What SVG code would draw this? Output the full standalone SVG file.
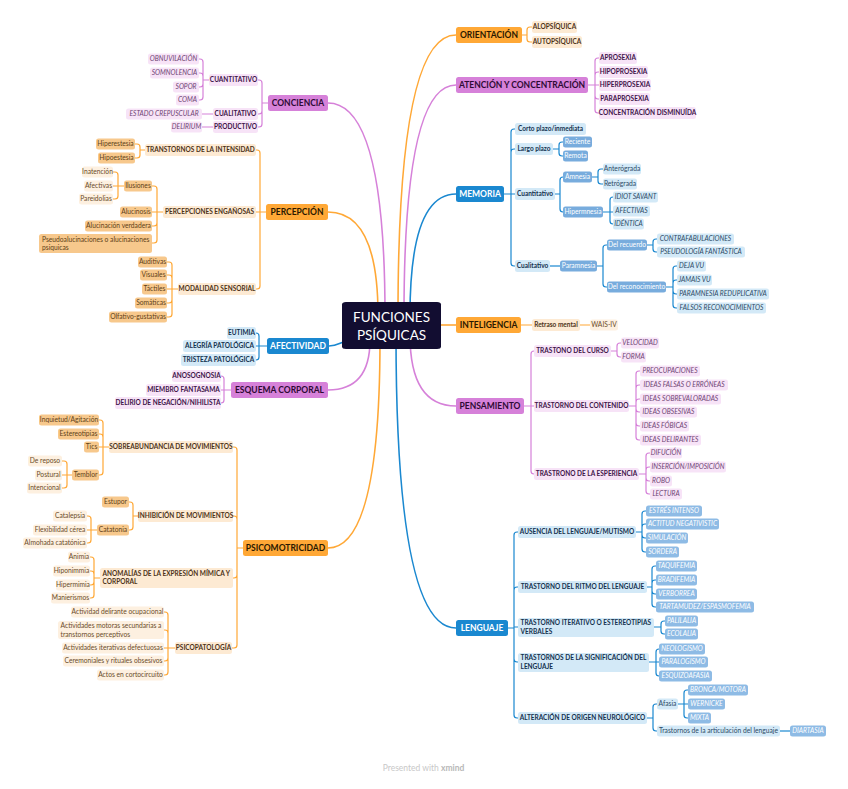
<svg xmlns="http://www.w3.org/2000/svg" width="848" height="789" viewBox="0 0 848 789">
<style>
text{font-family:Lato,"Liberation Sans",sans-serif;font-size:6.7px;text-anchor:middle}
rect{rx:2.5px;ry:2.5px}
.lft text{text-anchor:start}
.mo rect{fill:#FFA836}.mo text{fill:#2a1800;font-weight:bold;font-size:8.5px}
.mp rect{fill:#D681D9}.mp text{fill:#2d0a33;font-weight:bold;font-size:8.5px}
.mb rect{fill:#1A88D0}.mb text{fill:#fff;font-weight:bold;font-size:8.5px}
.o2 rect{fill:#FDEAD3}.o2 text{fill:#4d3318;font-weight:bold;font-size:6.5px}
.o3 rect{fill:#F7C88C}.o3 text{fill:#5e3f17}
.o4 rect{fill:#FDF0E0}.o4 text{fill:#6b4c2a}
.p2 rect{fill:#F7E3F7}.p2 text{fill:#401449;font-weight:bold;font-size:6.5px}
.p4 rect{fill:#F7E3F7}.p4 text{fill:#6e4473;font-style:italic}
.b2 rect{fill:#D3E9F7}.b2 text{fill:#14324f;font-weight:bold;font-size:6.5px}
.b3 rect{fill:#78ACDD}.b3 text{fill:#fff}
.b3i rect{fill:#8EBBE5}.b3i text{fill:#fff;font-style:italic}
.b4 rect{fill:#D3E9F7}.b4 text{fill:#2c4a66}
.b4i rect{fill:#D3E9F7}.b4i text{fill:#2c4a66;font-style:italic}
.c{fill:none;stroke-width:1.2}
.co{stroke:#FFA836}.cp{stroke:#D681D9}.cb{stroke:#1A88D0}
.main{stroke-width:1.6}
</style>
<g id="connectors">
<path class="c co main" d="M328 212Q378 212 378 315"/>
<path class="c cp main" d="M328 103Q385 103 385 315"/>
<path class="c cb main" d="M329 346C338 346 340 342 350 340"/>
<path class="c cp main" d="M328 390Q370 390 370 340"/>
<path class="c co main" d="M328 548Q380 548 380 340"/>
<path class="c co main" d="M456 35Q398 35 398 315"/>
<path class="c cp main" d="M456 85Q404 85 404 315"/>
<path class="c cb main" d="M456 194Q410 194 410 315"/>
<path class="c co main" d="M435 325H456"/>
<path class="c cp main" d="M456 406Q410 406 410 335"/>
<path class="c cb main" d="M456 628Q396 628 396 335"/>
<path class="c cp" d="M268 103H262M262 103V83Q262 80 259 80H258M262 103V111Q262 114 259 114H258M262 103V124Q262 127 259 127H258"/>
<path class="c cp" d="M209 80H203M203 80V62Q203 59 200 59H199M203 80V76Q203 73 200 73H199M203 80V84Q203 87 200 87H199M203 80V97Q203 100 200 100H199"/>
<path class="c cp" d="M213 114H202M213 127H202"/>
<path class="c co" d="M266 212H256M260 212V153Q260 150 257 150H256M260 212V286Q260 289 257 289H256"/>
<path class="c co" d="M145 150H140M140 150V147Q140 144 137 144H135M140 150V155Q140 158 137 158H135"/>
<path class="c co" d="M163 212H152M157 212V189Q157 186 154 186H152M157 212V223Q157 226 154 226H152M157 212V240Q157 243 154 243H152"/>
<path class="c co" d="M124 186H113M118 186V175Q118 172 115 172H113M118 186V196Q118 199 115 199H113"/>
<path class="c co" d="M178 289H167M172 289V265Q172 262 169 262H167M172 289V278Q172 275 169 275H167M172 289V300Q172 303 169 303H167M172 289V314Q172 317 169 317H167"/>
<path class="c cb" d="M267 346H256M259 346V336Q259 333 256 333M259 346V357Q259 360 256 360"/>
<path class="c cp" d="M231 390H221M224 390V379Q224 376 221 376M224 390V400Q224 403 221 403"/>
<path class="c co" d="M243 548H237M237 548V450Q237 447 234 447H233M237 548V519Q237 516 234 516H233M237 548V575Q237 578 234 578H233M237 548V645Q237 648 234 648H232"/>
<path class="c co" d="M109 447H99M103 447V423Q103 420 100 420H99M103 447V437Q103 434 100 434H99M103 447V472Q103 475 100 475H99"/>
<path class="c co" d="M72 475H62M67 475V464Q67 461 64 461H62M67 475V485Q67 488 64 488H62"/>
<path class="c co" d="M138 516H133M133 516V505Q133 502 130 502H129M133 516V527Q133 530 130 530H129"/>
<path class="c co" d="M97 530H87M91 530V519Q91 516 88 516H87M91 530V540Q91 543 88 543H87"/>
<path class="c co" d="M100 578H94M94 578V560Q94 557 91 557H90M94 578V574Q94 571 91 571H90M94 578V582Q94 585 91 585H90M94 578V595Q94 598 91 598H90"/>
<path class="c co" d="M175 648H164M168 648V615Q168 612 165 612H164M168 648V633Q168 630 165 630H164M168 648V658Q168 661 165 661H164M168 648V672Q168 675 165 675H164"/>
<path class="c co" d="M522 35H527M527 35V30Q527 27 530 27H532M527 35V39Q527 42 530 42H532"/>
<path class="c cp" d="M588 85H599M595 85V61Q595 58 598 58H599M595 85V75Q595 72 598 72H599M595 85V96Q595 99 598 99H599M595 85V110Q595 113 598 113H599"/>
<path class="c cb" d="M504 194H515M511 194V132Q511 129 514 129H515M511 194V152Q511 149 514 149H515M511 194V263Q511 266 514 266H515"/>
<path class="c cb" d="M553 149H559M559 149V145Q559 142 562 142H563M559 149V153Q559 156 562 156H563"/>
<path class="c cb" d="M555 194H560M560 194V180Q560 177 563 177M560 194V209Q560 212 563 212"/>
<path class="c cb" d="M592 177H598M598 177V172Q598 169 601 169H603M598 177V181Q598 184 601 184H603"/>
<path class="c cb" d="M603 212H613M610 212V200Q610 197 613 197M610 212V221Q610 224 613 224"/>
<path class="c cb" d="M550 266H560"/>
<path class="c cb" d="M597 266H603M603 266V248Q603 245 606 245H607M603 266V284Q603 287 606 287H607"/>
<path class="c cb" d="M647 245H653M653 245V242Q653 239 656 239H657M653 245V249Q653 252 656 252H657"/>
<path class="c cb" d="M666 287H673M673 287V269Q673 266 676 266H677M673 287V283Q673 280 676 280H677M673 287V291Q673 294 676 294H677M673 287V305Q673 308 676 308H677"/>
<path class="c co" d="M521 325H532M580 325H590"/>
<path class="c cp" d="M524 406H534M531 406V354Q531 351 534 351M531 406V471Q531 474 534 474"/>
<path class="c cp" d="M611 351H617M617 351V346Q617 343 620 343H621M617 351V354Q617 357 620 357H621"/>
<path class="c cp" d="M629 406H636M636 406V374Q636 371 639 371H640M636 406V388Q636 385 639 385H640M636 406V402Q636 399 639 399H640M636 406V409Q636 412 639 412H640M636 406V423Q636 426 639 426H640M636 406V437Q636 440 639 440H640"/>
<path class="c cp" d="M639 474H646M646 474V456Q646 453 649 453H650M646 474V470Q646 467 649 467H650M646 474V478Q646 481 649 481H650M646 474V491Q646 494 649 494H650"/>
<path class="c cb" d="M508 628H514M514 628V535Q514 532 517 532H518M514 628V590Q514 587 517 587H518M514 627H518M514 628V659Q514 662 517 662H518M514 628V715Q514 718 517 718H518"/>
<path class="c cb" d="M636 532H642M642 532V514Q642 511 645 511H646M642 532V527Q642 524 645 524H646M642 532V535Q642 538 645 538H646M642 532V549Q642 552 645 552H646"/>
<path class="c cb" d="M647 587H652M652 587V569Q652 566 655 566H656M652 587V583Q652 580 655 580H656M652 587V591Q652 594 655 594H656M652 587V604Q652 607 655 607H656"/>
<path class="c cb" d="M654 627H661M661 627V624Q661 621 664 621H665M661 627V631Q661 634 664 634H665"/>
<path class="c cb" d="M649 662H659M656 662V652Q656 649 659 649M656 662V673Q656 676 659 676"/>
<path class="c cb" d="M647 718H653M653 718V707Q653 704 656 704H657M653 718V728Q653 731 656 731H657"/>
<path class="c cb" d="M678 704H688M684 704V693Q684 690 687 690H688M684 704V715Q684 718 687 718H688"/>
<path class="c cb" d="M780 731H790"/>
</g>
<g id="root"><rect x="342" y="302" width="99" height="47" style="fill:#120d31;rx:4px"/><text x="391.5" y="321.5" style="fill:#fff;font-size:13.5px">FUNCIONES</text><text x="391.5" y="339.5" style="fill:#fff;font-size:13.5px">PSÍQUICAS</text></g>
<g id="n-conciencia" class="mp"><rect x="268" y="95" width="60" height="16"/><text x="298" y="106">CONCIENCIA</text></g>
<g id="n-cuantitativo" class="p2"><rect x="209" y="74" width="49" height="12"/><text x="233.5" y="82.3">CUANTITATIVO</text></g>
<g id="n-cualitativo" class="p2"><rect x="213" y="108" width="45" height="12"/><text x="235.5" y="116.3">CUALITATIVO</text></g>
<g id="n-productivo" class="p2"><rect x="213" y="121" width="45" height="12"/><text x="235.5" y="129.3">PRODUCTIVO</text></g>
<g id="n-obnuvilacion" class="p4"><rect x="148" y="53.5" width="51" height="11"/><text x="173.5" y="61.4">OBNUVILACIÓN</text></g>
<g id="n-somnolencia" class="p4"><rect x="150" y="67.5" width="49" height="11"/><text x="174.5" y="75.4">SOMNOLENCIA</text></g>
<g id="n-sopor" class="p4"><rect x="173" y="81.5" width="26" height="11"/><text x="186" y="89.4">SOPOR</text></g>
<g id="n-coma" class="p4"><rect x="176" y="94.5" width="23" height="11"/><text x="187.5" y="102.4">COMA</text></g>
<g id="n-crepuscular" class="p4"><rect x="126" y="108.5" width="76" height="11"/><text x="164" y="116.4">ESTADO CREPUSCULAR</text></g>
<g id="n-delirium" class="p4"><rect x="171" y="121.5" width="31" height="11"/><text x="186.5" y="129.4">DELIRIUM</text></g>
<g id="n-percepcion" class="mo"><rect x="266" y="204" width="62" height="16"/><text x="297" y="215">PERCEPCIÓN</text></g>
<g id="n-intensidad" class="o2"><rect x="145" y="144" width="111" height="12"/><text x="200.5" y="152.3">TRANSTORNOS DE LA INTENSIDAD</text></g>
<g id="n-enganosas" class="o2"><rect x="163" y="206" width="93" height="12"/><text x="209.5" y="214.3">PERCEPCIONES ENGAÑOSAS</text></g>
<g id="n-modalidad" class="o2"><rect x="178" y="283" width="78" height="12"/><text x="217" y="291.3">MODALIDAD SENSORIAL</text></g>
<g id="n-hiperestesia" class="o3"><rect x="96" y="138.5" width="39" height="11"/><text x="115.5" y="146.4">Hiperestesia</text></g>
<g id="n-hipoestesia" class="o3"><rect x="98" y="152.5" width="37" height="11"/><text x="116.5" y="160.4">Hipoestesia</text></g>
<g id="n-ilusiones" class="o3"><rect x="124" y="180.5" width="28" height="11"/><text x="138" y="188.4">Ilusiones</text></g>
<g id="n-alucinosis" class="o3"><rect x="120" y="206.5" width="32" height="11"/><text x="136" y="214.4">Alucinosis</text></g>
<g id="n-alucinacion" class="o3"><rect x="85" y="220.5" width="67" height="11"/><text x="118.5" y="228.4">Alucinación verdadera</text></g>
<g id="n-pseudo" class="o3 lft"><rect x="39" y="234" width="113" height="19"/><text x="42" y="241.8">Pseudoalucinaciones o alucinaciones</text><text x="42" y="249.8">psiquicas</text></g>
<g id="n-inatencion" class="o4"><rect x="82" y="166.5" width="31" height="11"/><text x="97.5" y="174.4">Inatención</text></g>
<g id="n-afectivas-p" class="o4"><rect x="84" y="180.5" width="29" height="11"/><text x="98.5" y="188.4">Afectivas</text></g>
<g id="n-pareidolias" class="o4"><rect x="79" y="193.5" width="34" height="11"/><text x="96" y="201.4">Pareidolias</text></g>
<g id="n-auditivas" class="o3"><rect x="138" y="256.5" width="29" height="11"/><text x="152.5" y="264.4">Auditivas</text></g>
<g id="n-visuales" class="o3"><rect x="140" y="269.5" width="27" height="11"/><text x="153.5" y="277.4">Visuales</text></g>
<g id="n-tactiles" class="o3"><rect x="142" y="283.5" width="25" height="11"/><text x="154.5" y="291.4">Táctiles</text></g>
<g id="n-somaticas" class="o3"><rect x="135" y="297.5" width="32" height="11"/><text x="151" y="305.4">Somáticas</text></g>
<g id="n-olfativo" class="o3"><rect x="109" y="311.5" width="58" height="11"/><text x="138" y="319.4">Olfativo-gustativas</text></g>
<g id="n-afectividad" class="mb"><rect x="267" y="338" width="62" height="16"/><text x="298" y="349">AFECTIVIDAD</text></g>
<g id="n-eutimia" class="b2"><rect x="227" y="327" width="29" height="12"/><text x="241.5" y="335.3">EUTIMIA</text></g>
<g id="n-alegria" class="b2"><rect x="183" y="340" width="73" height="12"/><text x="219.5" y="348.3">ALEGRÍA PATOLÓGICA</text></g>
<g id="n-tristeza" class="b2"><rect x="181" y="354" width="75" height="12"/><text x="218.5" y="362.3">TRISTEZA PATOLÓGICA</text></g>
<g id="n-esquema" class="mp"><rect x="231" y="382" width="97" height="16"/><text x="279.5" y="393">ESQUEMA CORPORAL</text></g>
<g id="n-anosognosia" class="p2"><rect x="172" y="370" width="49" height="12"/><text x="196.5" y="378.3">ANOSOGNOSIA</text></g>
<g id="n-miembro" class="p2"><rect x="146" y="384" width="75" height="12"/><text x="183.5" y="392.3">MIEMBRO FANTASAMA</text></g>
<g id="n-delirio" class="p2"><rect x="115" y="397" width="106" height="12"/><text x="168" y="405.3">DELIRIO DE NEGACIÓN/NIHILISTA</text></g>
<g id="n-psicomotricidad" class="mo"><rect x="243" y="540" width="85" height="16"/><text x="285.5" y="551">PSICOMOTRICIDAD</text></g>
<g id="n-sobreabundancia" class="o2"><rect x="109" y="441" width="124" height="12"/><text x="171" y="449.3">SOBREABUNDANCIA DE MOVIMIENTOS</text></g>
<g id="n-inhibicion" class="o2"><rect x="138" y="510" width="95" height="12"/><text x="185.5" y="518.3">INHIBICIÓN DE MOVIMIENTOS</text></g>
<g id="n-anomalias" class="o2 lft"><rect x="100" y="568" width="133" height="20"/><text x="102.5" y="575.7">ANOMALÍAS DE LA EXPRESIÓN MÍMICA Y</text><text x="102.5" y="584.2">CORPORAL</text></g>
<g id="n-psicopatologia" class="o2"><rect x="175" y="642" width="57" height="12"/><text x="203.5" y="650.3">PSICOPATOLOGÍA</text></g>
<g id="n-inquietud" class="o3"><rect x="39" y="414.5" width="60" height="11"/><text x="69" y="422.4">Inquietud/Agitación</text></g>
<g id="n-estereotipias" class="o3"><rect x="58" y="428.5" width="41" height="11"/><text x="78.5" y="436.4">Estereotipias</text></g>
<g id="n-tics" class="o3"><rect x="84" y="441.5" width="15" height="11"/><text x="91.5" y="449.4">Tics</text></g>
<g id="n-temblor" class="o3"><rect x="72" y="469.5" width="27" height="11"/><text x="85.5" y="477.4">Temblor</text></g>
<g id="n-reposo" class="o4"><rect x="28" y="455.5" width="34" height="11"/><text x="45" y="463.4">De reposo</text></g>
<g id="n-postural" class="o4"><rect x="35" y="469.5" width="27" height="11"/><text x="48.5" y="477.4">Postural</text></g>
<g id="n-intencional" class="o4"><rect x="27" y="482.5" width="35" height="11"/><text x="44.5" y="490.4">Intencional</text></g>
<g id="n-estupor" class="o3"><rect x="102" y="496.5" width="27" height="11"/><text x="115.5" y="504.4">Estupor</text></g>
<g id="n-catatonia" class="o3"><rect x="97" y="524.5" width="32" height="11"/><text x="113" y="532.4">Catatonia</text></g>
<g id="n-catalepsia" class="o4"><rect x="53" y="510.5" width="34" height="11"/><text x="70" y="518.4">Catalepsia</text></g>
<g id="n-flexibilidad" class="o4"><rect x="33" y="524.5" width="54" height="11"/><text x="60" y="532.4">Flexibilidad cérea</text></g>
<g id="n-almohada" class="o4"><rect x="23" y="537.5" width="64" height="11"/><text x="55" y="545.4">Almohada catatónica</text></g>
<g id="n-animia" class="o4"><rect x="68" y="551.5" width="22" height="11"/><text x="79" y="559.4">Animia</text></g>
<g id="n-hiponimmia" class="o4"><rect x="53" y="565.5" width="37" height="11"/><text x="71.5" y="573.4">Hiponimmia</text></g>
<g id="n-hipermimia" class="o4"><rect x="56" y="579.5" width="34" height="11"/><text x="73" y="587.4">Hipermimia</text></g>
<g id="n-manierismos" class="o4"><rect x="51" y="592.5" width="39" height="11"/><text x="70.5" y="600.4">Manierismos</text></g>
<g id="n-delirante" class="o4"><rect x="71" y="606.5" width="93" height="11"/><text x="117.5" y="614.4">Actividad delirante ocupacional</text></g>
<g id="n-motoras" class="o4 lft"><rect x="58" y="621" width="106" height="18"/><text x="60.5" y="628.3">Actividades motoras secundarias a</text><text x="60.5" y="636.8">transtornos perceptivos</text></g>
<g id="n-iterativas" class="o4"><rect x="62" y="642.5" width="102" height="11"/><text x="113" y="650.4">Actividades iterativas defectuosas</text></g>
<g id="n-ceremoniales" class="o4"><rect x="63" y="655.5" width="101" height="11"/><text x="113.5" y="663.4">Ceremoniales y rituales obsesivos</text></g>
<g id="n-actos" class="o4"><rect x="97" y="669.5" width="67" height="11"/><text x="130.5" y="677.4">Actos en cortocircuito</text></g>
<g id="n-orientacion" class="mo"><rect x="456" y="27" width="66" height="16"/><text x="489" y="38">ORIENTACIÓN</text></g>
<g id="n-alopsiquica" class="o2"><rect x="532" y="21" width="45" height="12"/><text x="554.5" y="29.3">ALOPSÍQUICA</text></g>
<g id="n-autopsiquica" class="o2"><rect x="532" y="36" width="50" height="12"/><text x="557" y="44.3">AUTOPSÍQUICA</text></g>
<g id="n-atencion" class="mp"><rect x="456" y="77" width="132" height="16"/><text x="522" y="88">ATENCIÓN Y CONCENTRACIÓN</text></g>
<g id="n-aprosexia" class="p2"><rect x="599" y="52" width="38" height="12"/><text x="618" y="60.3">APROSEXIA</text></g>
<g id="n-hipoprosexia" class="p2"><rect x="599" y="66" width="49" height="12"/><text x="623.5" y="74.3">HIPOPROSEXIA</text></g>
<g id="n-hiperprosexia" class="p2"><rect x="599" y="79" width="52" height="12"/><text x="625" y="87.3">HIPERPROSEXIA</text></g>
<g id="n-paraprosexia" class="p2"><rect x="599" y="93" width="51" height="12"/><text x="624.5" y="101.3">PARAPROSEXIA</text></g>
<g id="n-concentracion" class="p2"><rect x="599" y="107" width="97" height="12"/><text x="647.5" y="115.3">CONCENTRACIÓN DISMINUÍDA</text></g>
<g id="n-memoria" class="mb"><rect x="456" y="186" width="48" height="16"/><text x="480" y="197">MEMORIA</text></g>
<g id="n-corto" class="b2"><rect x="515" y="123" width="71" height="12"/><text x="550.5" y="131.3">Corto plazo/inmediata</text></g>
<g id="n-largo" class="b2"><rect x="515" y="143" width="38" height="12"/><text x="534" y="151.3">Largo plazo</text></g>
<g id="n-cuantitativo-m" class="b2"><rect x="515" y="188" width="40" height="12"/><text x="535" y="196.3">Cuantitativo</text></g>
<g id="n-cualitativo-m" class="b2"><rect x="515" y="260" width="35" height="12"/><text x="532.5" y="268.3">Cualitativo</text></g>
<g id="n-reciente" class="b3"><rect x="563" y="136.5" width="29" height="11"/><text x="577.5" y="144.4">Reciente</text></g>
<g id="n-remota" class="b3"><rect x="563" y="150.5" width="25" height="11"/><text x="575.5" y="158.4">Remota</text></g>
<g id="n-amnesia" class="b3"><rect x="563" y="171.5" width="29" height="11"/><text x="577.5" y="179.4">Amnesia</text></g>
<g id="n-hipermnesia" class="b3"><rect x="563" y="206.5" width="40" height="11"/><text x="583" y="214.4">Hipermnesia</text></g>
<g id="n-anterograda" class="b4"><rect x="603" y="163.5" width="38" height="11"/><text x="622" y="171.4">Anterógrada</text></g>
<g id="n-retrograda" class="b4"><rect x="603" y="178.5" width="34" height="11"/><text x="620" y="186.4">Retrógrada</text></g>
<g id="n-idiot" class="b4i"><rect x="613" y="191.5" width="45" height="11"/><text x="635.5" y="199.4">IDIOT SAVANT</text></g>
<g id="n-afectivas-m" class="b4i"><rect x="613" y="205.5" width="37" height="11"/><text x="631.5" y="213.4">AFECTIVAS</text></g>
<g id="n-identica" class="b4i"><rect x="613" y="218.5" width="31" height="11"/><text x="628.5" y="226.4">IDÉNTICA</text></g>
<g id="n-paramnesia" class="b3"><rect x="560" y="260.5" width="37" height="11"/><text x="578.5" y="268.4">Paramnesia</text></g>
<g id="n-recuerdo" class="b3"><rect x="607" y="239.5" width="40" height="11"/><text x="627" y="247.4">Del recuerdo</text></g>
<g id="n-reconocimiento" class="b3"><rect x="607" y="281.5" width="59" height="11"/><text x="636.5" y="289.4">Del reconocimiento</text></g>
<g id="n-contrafabulaciones" class="b4i"><rect x="657" y="233.5" width="77" height="11"/><text x="695.5" y="241.4">CONTRAFABULACIONES</text></g>
<g id="n-pseudologia" class="b4i"><rect x="657" y="246.5" width="88" height="11"/><text x="701" y="254.4">PSEUDOLOGÍA FANTÁSTICA</text></g>
<g id="n-dejavu" class="b4i"><rect x="677" y="260.5" width="29" height="11"/><text x="691.5" y="268.4">DEJA VU</text></g>
<g id="n-jamaisvu" class="b4i"><rect x="677" y="274.5" width="35" height="11"/><text x="694.5" y="282.4">JAMAIS VU</text></g>
<g id="n-reduplicativa" class="b4i"><rect x="677" y="288.5" width="92" height="11"/><text x="723" y="296.4">PARAMNESIA REDUPLICATIVA</text></g>
<g id="n-falsos" class="b4i"><rect x="677" y="302.5" width="89" height="11"/><text x="721.5" y="310.4">FALSOS RECONOCIMIENTOS</text></g>
<g id="n-inteligencia" class="mo"><rect x="456" y="317" width="65" height="16"/><text x="488.5" y="328">INTELIGENCIA</text></g>
<g id="n-retraso" class="o2"><rect x="532" y="319" width="48" height="12"/><text x="556" y="327.3">Retraso mental</text></g>
<g id="n-wais" class="o4"><rect x="590" y="319.5" width="28" height="11"/><text x="604" y="327.4">WAIS-IV</text></g>
<g id="n-pensamiento" class="mp"><rect x="456" y="398" width="68" height="16"/><text x="490" y="409">PENSAMIENTO</text></g>
<g id="n-curso" class="p2"><rect x="534" y="345" width="77" height="12"/><text x="572.5" y="353.3">TRASTONO DEL CURSO</text></g>
<g id="n-contenido" class="p2"><rect x="534" y="400" width="95" height="12"/><text x="581.5" y="408.3">TRASTORNO DEL CONTENIDO</text></g>
<g id="n-esperiencia" class="p2"><rect x="534" y="468" width="105" height="12"/><text x="586.5" y="476.3">TRASTRONO DE LA ESPERIENCIA</text></g>
<g id="n-velocidad" class="p4"><rect x="621" y="337.5" width="38" height="11"/><text x="640" y="345.4">VELOCIDAD</text></g>
<g id="n-forma" class="p4"><rect x="621" y="351.5" width="25" height="11"/><text x="633.5" y="359.4">FORMA</text></g>
<g id="n-preocupaciones" class="p4"><rect x="640" y="365.5" width="60" height="11"/><text x="670" y="373.4">PREOCUPACIONES</text></g>
<g id="n-falsas" class="p4"><rect x="640" y="379.5" width="88" height="11"/><text x="684" y="387.4">IDEAS FALSAS O ERRÓNEAS</text></g>
<g id="n-sobrevaloradas" class="p4"><rect x="640" y="393.5" width="81" height="11"/><text x="680.5" y="401.4">IDEAS SOBREVALORADAS</text></g>
<g id="n-obsesivas" class="p4"><rect x="640" y="406.5" width="57" height="11"/><text x="668.5" y="414.4">IDEAS OBSESIVAS</text></g>
<g id="n-fobicas" class="p4"><rect x="640" y="420.5" width="49" height="11"/><text x="664.5" y="428.4">IDEAS FÓBICAS</text></g>
<g id="n-delirantes" class="p4"><rect x="640" y="434.5" width="61" height="11"/><text x="670.5" y="442.4">IDEAS DELIRANTES</text></g>
<g id="n-difucion" class="p4"><rect x="650" y="447.5" width="32" height="11"/><text x="666" y="455.4">DIFUCIÓN</text></g>
<g id="n-insercion" class="p4"><rect x="650" y="461.5" width="76" height="11"/><text x="688" y="469.4">INSERCIÓN/IMPOSICIÓN</text></g>
<g id="n-robo" class="p4"><rect x="650" y="475.5" width="22" height="11"/><text x="661" y="483.4">ROBO</text></g>
<g id="n-lectura" class="p4"><rect x="650" y="488.5" width="32" height="11"/><text x="666" y="496.4">LECTURA</text></g>
<g id="n-lenguaje" class="mb"><rect x="456" y="620" width="52" height="16"/><text x="482" y="631">LENGUAJE</text></g>
<g id="n-ausencia" class="b2"><rect x="518" y="526" width="118" height="12"/><text x="577" y="534.3">AUSENCIA DEL LENGUAJE/MUTISMO</text></g>
<g id="n-ritmo" class="b2"><rect x="518" y="581" width="129" height="12"/><text x="582.5" y="589.3">TRASTORNO DEL RITMO DEL LENGUAJE</text></g>
<g id="n-iterativo" class="b2 lft"><rect x="518" y="618" width="136" height="19"/><text x="520.5" y="625.2">TRASTORNO ITERATIVO O ESTEREOTIPIAS</text><text x="520.5" y="633.7">VERBALES</text></g>
<g id="n-significacion" class="b2 lft"><rect x="518" y="653" width="131" height="19"/><text x="520.5" y="660.2">TRASTORNOS DE LA SIGNIFICACIÓN DEL</text><text x="520.5" y="668.7">LENGUAJE</text></g>
<g id="n-alteracion" class="b2"><rect x="518" y="712" width="129" height="12"/><text x="582.5" y="720.3">ALTERACIÓN DE ORIGEN NEUROLÓGICO</text></g>
<g id="n-estres" class="b3i"><rect x="646" y="505.5" width="56" height="11"/><text x="674" y="513.4">ESTRÉS INTENSO</text></g>
<g id="n-actitud" class="b3i"><rect x="646" y="518.5" width="73" height="11"/><text x="682.5" y="526.4">ACTITUD NEGATIVISTIC</text></g>
<g id="n-simulacion" class="b3i"><rect x="646" y="532.5" width="42" height="11"/><text x="667" y="540.4">SIMULACIÓN</text></g>
<g id="n-sordera" class="b3i"><rect x="646" y="546.5" width="33" height="11"/><text x="662.5" y="554.4">SORDERA</text></g>
<g id="n-taquifemia" class="b3i"><rect x="656" y="560.5" width="41" height="11"/><text x="676.5" y="568.4">TAQUIFEMIA</text></g>
<g id="n-bradifemia" class="b3i"><rect x="656" y="574.5" width="41" height="11"/><text x="676.5" y="582.4">BRADIFEMIA</text></g>
<g id="n-verborrea" class="b3i"><rect x="656" y="588.5" width="41" height="11"/><text x="676.5" y="596.4">VERBORREA</text></g>
<g id="n-tartamudez" class="b3i"><rect x="656" y="601.5" width="98" height="11"/><text x="705" y="609.4">TARTAMUDEZ/ESPASMOFEMIA</text></g>
<g id="n-palilalia" class="b3i"><rect x="665" y="615.5" width="33" height="11"/><text x="681.5" y="623.4">PALILALIA</text></g>
<g id="n-ecolalia" class="b3i"><rect x="665" y="628.5" width="33" height="11"/><text x="681.5" y="636.4">ECOLALIA</text></g>
<g id="n-neologismo" class="b3i"><rect x="659" y="643.5" width="46" height="11"/><text x="682" y="651.4">NEOLOGISMO</text></g>
<g id="n-paralogismo" class="b3i"><rect x="659" y="656.5" width="49" height="11"/><text x="683.5" y="664.4">PARALOGISMO</text></g>
<g id="n-esquizoafasia" class="b3i"><rect x="659" y="670.5" width="53" height="11"/><text x="685.5" y="678.4">ESQUIZOAFASIA</text></g>
<g id="n-afasia" class="b4"><rect x="657" y="698.5" width="21" height="11"/><text x="667.5" y="706.4">Afasia</text></g>
<g id="n-articulacion" class="b4"><rect x="657" y="725.5" width="123" height="11"/><text x="718.5" y="733.4">Trastornos de la articulación del lenguaje</text></g>
<g id="n-bronca" class="b3i"><rect x="688" y="684.5" width="60" height="11"/><text x="718" y="692.4">BRONCA/MOTORA</text></g>
<g id="n-wernicke" class="b3i"><rect x="688" y="698.5" width="37" height="11"/><text x="706.5" y="706.4">WERNICKE</text></g>
<g id="n-mixta" class="b3i"><rect x="688" y="712.5" width="23" height="11"/><text x="699.5" y="720.4">MIXTA</text></g>
<g id="n-diartasia" class="b3i"><rect x="790" y="725.5" width="36" height="11"/><text x="808" y="733.4">DIARTASIA</text></g>
<text x="423.5" y="771" style="font-size:8.5px"><tspan style="fill:#c8c8c8">Presented with </tspan><tspan style="fill:#b8b8b8;font-weight:bold">xmind</tspan></text>
</svg>
